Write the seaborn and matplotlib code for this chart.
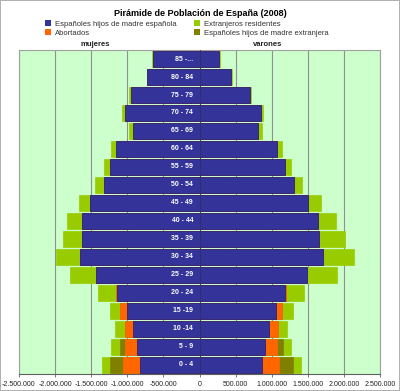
import numpy as np
import pandas as pd
import matplotlib.pyplot as plt
import seaborn as sns
from matplotlib.patches import Patch


# Age groups, top to bottom
ages = ["85 -...", "80 - 84", "75 - 79", "70 - 74", "65 - 69", "60 - 64",
        "55 - 59", "50 - 54", "45 - 49", "40 - 44", "35 - 39", "30 - 34",
        "25 - 29", "20 - 24", "15 -19", "10 -14", "5 - 9", "0 - 4"]

# Women (thousands)
muj_espanoles = [644, 722, 954, 1032, 921, 1157, 1236, 1329, 1519, 1634,
                 1625, 1653, 1440, 1144, 1009, 917, 870, 829]
muj_abortados = [0, 0, 0, 0, 0, 0, 0, 0, 0, 0, 0, 0, 0, 18, 97, 120, 162, 236]
muj_madre_ext = [0, 0, 0, 0, 0, 0, 0, 0, 0, 0, 0, 0, 0, 0, 0, 0, 74, 171]
muj_extranjeros = [10, 10, 18, 37, 60, 74, 83, 115, 152, 199, 269, 328, 356,
                   241, 130, 130, 116, 120]

# Men (thousands)
var_espanoles = [270, 440, 694, 847, 810, 1079, 1185, 1306, 1500, 1639,
                 1657, 1713, 1491, 1190, 1060, 958, 912, 866]
var_abortados = [0, 0, 0, 0, 0, 0, 0, 0, 0, 0, 0, 0, 0, 14, 88, 125, 167, 240]
var_madre_ext = [0, 0, 0, 0, 0, 0, 0, 0, 0, 0, 0, 0, 0, 0, 0, 0, 74, 186]
var_extranjeros = [20, 15, 24, 33, 56, 60, 79, 111, 180, 250, 357, 426, 416,
                   250, 148, 125, 120, 120]

ticks = [-2500, -2000, -1500, -1000, -500, 0, 500, 1000, 1500, 2000, 2500]
tick_labels = ["-2.500.000", "-2.000.000", "-1.500.000", "-1.000.000",
               "-500.000", "0", "500.000", "1.000.000", "1.500.000",
               "2.000.000", "2.500.000"]

series = ["Españoles hijos de madre española", "Abortados",
          "Españoles hijos de madre extranjera", "Extranjeros residentes"]
colors = {"Españoles hijos de madre española": "#333399",
          "Abortados": "#FF6600",
          "Españoles hijos de madre extranjera": "#808000",
          "Extranjeros residentes": "#99CC00"}

plt.rcParams["font.family"] = ["Liberation Sans", "DejaVu Sans"]

fig = plt.figure(figsize=(4, 3.91), dpi=100, linewidth=1.2, edgecolor="#b0b0b0")
ax = fig.add_axes([0.0475, 0.044, 0.9025, 0.828])
ax.set_facecolor("#CCFFCC")

# cumulative stacks, drawn outermost first
muj = pd.DataFrame({"Españoles hijos de madre española": muj_espanoles,
                    "Abortados": muj_abortados,
                    "Españoles hijos de madre extranjera": muj_madre_ext,
                    "Extranjeros residentes": muj_extranjeros}, index=ages)
var = pd.DataFrame({"Españoles hijos de madre española": var_espanoles,
                    "Abortados": var_abortados,
                    "Españoles hijos de madre extranjera": var_madre_ext,
                    "Extranjeros residentes": var_extranjeros}, index=ages)
muj_cum = muj[series].cumsum(axis=1)
var_cum = var[series].cumsum(axis=1)

for x in ticks:
    ax.axvline(x, color="#909090", lw=0.8, zorder=0)

for s in reversed(series):
    edge = "#1a1a80" if s == series[0] else colors[s]
    for vals in (-muj_cum[s], var_cum[s]):
        sns.barplot(x=vals.values, y=ages, order=ages, orient="h",
                    color=colors[s], saturation=1, width=0.86,
                    edgecolor=edge, linewidth=0.5, ax=ax)

ax.axvline(0, color="#333366", lw=0.6, zorder=5)

for i, lab in enumerate(ages):
    ax.text(-90, i, lab, ha="right", va="center", color="white",
            fontsize=5, fontweight="bold", zorder=6)

ax.set_xlim(-2500, 2500)
ax.set_ylim(len(ages) - 0.5, -0.5)
ax.set_xticks(ticks)
ax.set_xticklabels(tick_labels, fontsize=5, color="#222222")
ax.tick_params(axis="x", length=2, width=0.6, pad=3, color="#606060")
ax.tick_params(axis="y", left=False, labelleft=False)
ax.set_xlabel("")
ax.set_ylabel("")
for side in ["left", "right", "top"]:
    ax.spines[side].set_color("#a0a0a0")
    ax.spines[side].set_linewidth(0.8)
ax.spines["bottom"].set_color("#606060")
ax.spines["bottom"].set_linewidth(0.8)

fig.text(0.5, 0.965, "Pirámide de Población de España (2008)", ha="center",
         va="center", fontsize=6.5, fontweight="bold")
fig.text(0.237, 0.886, "mujeres", ha="center", va="center", fontsize=5.5,
         fontweight="bold", color="#222222")
fig.text(0.67, 0.886, "varones", ha="center", va="center", fontsize=5.5,
         fontweight="bold", color="#222222")

legend_order = ["Españoles hijos de madre española", "Abortados",
                "Extranjeros residentes", "Españoles hijos de madre extranjera"]
handles = [Patch(facecolor=colors[s], edgecolor="none") for s in legend_order]
fig.legend(handles, legend_order, ncol=2, loc="upper left",
           bbox_to_anchor=(0.1, 0.962), frameon=False, fontsize=5.5,
           handlelength=0.7, handleheight=0.7, handletextpad=0.5,
           columnspacing=2.4, labelspacing=0.25, borderpad=0.2,
           labelcolor="#333333")

fig.savefig("out.png", dpi=100, edgecolor=fig.get_edgecolor())
